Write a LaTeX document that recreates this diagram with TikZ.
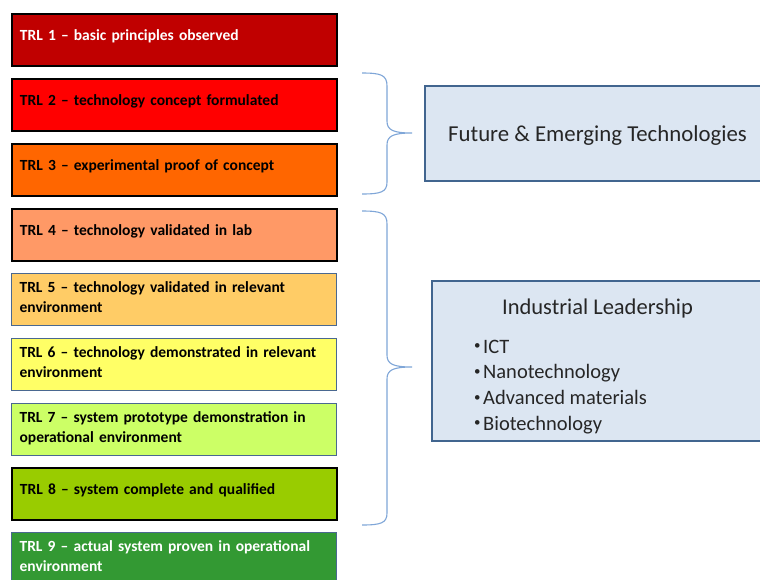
\documentclass[tikz,border=0pt]{standalone}
\usepackage{fontspec}
\setmainfont{Carlito}
\hyphenpenalty=10000
\exhyphenpenalty=10000
\definecolor{c1}{HTML}{C00000}
\definecolor{c2}{HTML}{FF0000}
\definecolor{c3}{HTML}{FF6600}
\definecolor{c4}{HTML}{FF9966}
\definecolor{c5}{HTML}{FFCC66}
\definecolor{c6}{HTML}{FFFF66}
\definecolor{c7}{HTML}{CCFF66}
\definecolor{c8}{HTML}{99CC00}
\definecolor{c9}{HTML}{339933}
\definecolor{bluebord}{HTML}{4A6890}
\definecolor{bracecol}{HTML}{7FA6D8}
\definecolor{panelfill}{HTML}{DCE6F2}
\definecolor{panelbord}{HTML}{41658F}
\definecolor{paneltext}{HTML}{262626}
\tikzset{
  trl/.style={draw, anchor=north west, minimum width=325, minimum height=52,
    text width=309, inner xsep=8, inner ysep=0, align=left,
    font=\fontsize{15.5}{20}\selectfont\bfseries},
  single/.style={text height=10, text depth=8},
  blackbord/.style={draw=black, line width=1.8},
  softbord/.style={draw=bluebord, line width=1.2},
  panel/.style={draw=panelbord, line width=1.6, fill=panelfill, anchor=north west},
  bracestyle/.style={draw=bracecol, line width=1.1},
}
\newcommand{\smallbul}{\raisebox{3.2pt}{\fontsize{13}{13}\selectfont •}\hspace{2.5pt}}
\begin{document}
\begin{tikzpicture}[x=1pt,y=-1pt]
\clip (0,0) rectangle (760,579);
\fill[white] (0,0) rectangle (760,579);
\node[trl, single, blackbord, fill=c1, text=white] (t1) at (11,13) {TRL 1 – basic principles observed};
\node[trl, single, blackbord, fill=c2] (t2) at (11,78) {TRL 2 – technology concept formulated};
\node[trl, single, blackbord, fill=c3] (t3) at (11,143) {TRL 3 – experimental proof of concept};
\node[trl, single, blackbord, fill=c4] (t4) at (11,208) {TRL 4 – technology validated in lab};
\node[trl, softbord, fill=c5] (t5) at (11,273) {TRL 5 – technology validated in relevant environment\strut};
\node[trl, softbord, fill=c6] (t6) at (11,338) {TRL 6 – technology demonstrated in relevant environment\strut};
\node[trl, softbord, fill=c7] (t7) at (11,403) {TRL 7 – system prototype demonstration in operational environment\strut};
\node[trl, single, blackbord, fill=c8] (t8) at (11,467) {TRL 8 – system complete and qualified};
\node[trl, softbord, fill=c9, text=white] (t9) at (11,532) {TRL 9 – actual system proven in operational environment\strut};

\node[panel, minimum width=360, minimum height=95] (fet) at (424,85) {};
\node[text=paneltext, font=\fontsize{22.8}{26}\selectfont, anchor=base west, inner xsep=0] (fett) at (448,141) {Future \& Emerging Technologies};

\node[panel, minimum width=360, minimum height=160] (il) at (431,280) {};
\node[text=paneltext, font=\fontsize{22.5}{26}\selectfont, anchor=base] (ilt) at (597.5,314) {Industrial Leadership};
\node[text=paneltext, font=\fontsize{20.5}{25.7}\selectfont, anchor=north west, align=left, inner sep=0] (ill) at (474,339.5)
  {\smallbul ICT\\ \smallbul Nanotechnology\\ \smallbul Advanced materials\\ \smallbul Biotechnology};

\coordinate (b1top) at (362,73);
\coordinate (b1tip) at (412,133);
\coordinate (b1bot) at (362,194);
\coordinate (b2top) at (362,211);
\coordinate (b2tip) at (412,367);
\coordinate (b2bot) at (362,525);

\draw[bracestyle] (b1top) .. controls (381,73) and (387,75) .. (387,86) -- (387,121)
  .. controls (387,130) and (393,133) .. (b1tip)
  .. controls (393,133) and (387,136) .. (387,145) -- (387,182)
  .. controls (387,192) and (381,194) .. (b1bot);
\draw[bracestyle] (b2top) .. controls (381,211) and (387,213) .. (387,224) -- (387,355)
  .. controls (387,364) and (393,367) .. (b2tip)
  .. controls (393,367) and (387,370) .. (387,379) -- (387,513)
  .. controls (387,523) and (381,525) .. (b2bot);
\end{tikzpicture}
\end{document}
